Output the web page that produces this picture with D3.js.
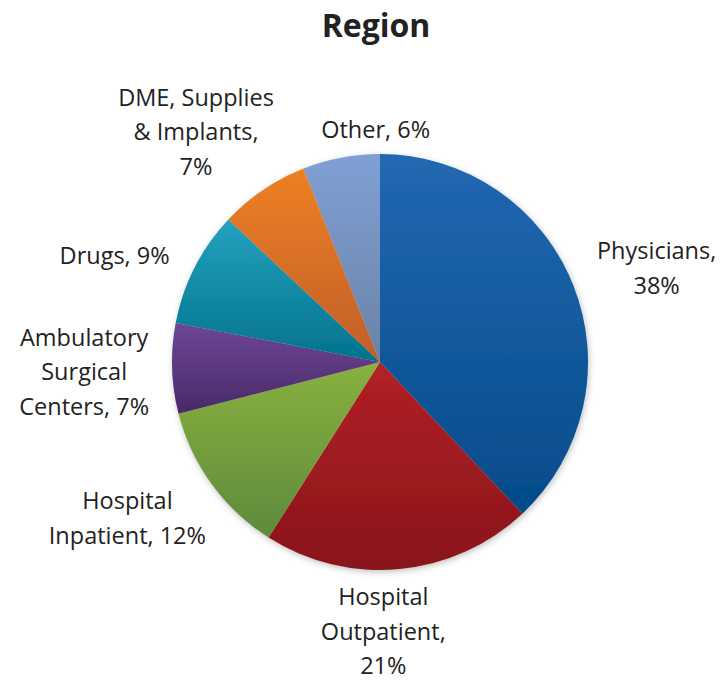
<!DOCTYPE html>
<html>
<head>
<meta charset="utf-8">
<script src="https://cdn.jsdelivr.net/npm/d3@7"></script>
<style>
  body { margin: 0; background: #fff; }
  text { font-family: "Open Sans", "Noto Sans", sans-serif; fill: #222; }
</style>
</head>
<body>
<svg id="chart"></svg>
<script>
// data
const categories = ["Physicians", "Hospital Outpatient", "Hospital Inpatient", "Ambulatory Surgical Centers", "Drugs", "DME, Supplies & Implants", "Other"]
const shares = [38, 21, 12, 7, 9, 7, 6]
const labelLines = [
  ["Physicians,", "38%"],
  ["Hospital", "Outpatient,", "21%"],
  ["Hospital", "Inpatient, 12%"],
  ["Ambulatory", "Surgical", "Centers, 7%"],
  ["Drugs, 9%"],
  ["DME, Supplies", "& Implants,", "7%"],
  ["Other, 6%"]
]
// label nudges from the outer label arc
const labelNudge = [[7, 13], [-24, -19], [-18, -14], [-6, 1], [-7, 25], [-21, 10], [50, 53]]

const colorsTop = ["#2268b2", "#b22126", "#88b13f", "#6c4796", "#24a2be", "#ee8023", "#80a0d4"]
const colorsBottom = ["#044b89", "#88151a", "#5e8a3c", "#4a2967", "#02728d", "#c05e2b", "#6a82a6"]

const width = 722, height = 683
const cx = 380, cy = 362, radius = 208
const labelRadius = 290
const lineHeight = 34.5

const svg = d3.select("#chart")
  .attr("width", width)
  .attr("height", height)

const defs = svg.append("defs")
const shadow = defs.append("filter").attr("id", "shadow")
  .attr("x", "-10%").attr("y", "-10%").attr("width", "120%").attr("height", "120%")
shadow.append("feDropShadow")
  .attr("dx", 1).attr("dy", 2).attr("stdDeviation", 3)
  .attr("flood-color", "#000").attr("flood-opacity", 0.25)

categories.forEach((c, i) => {
  const g = defs.append("linearGradient").attr("id", "grad" + i)
    .attr("x1", 0).attr("y1", 0).attr("x2", 0).attr("y2", 1)
  g.append("stop").attr("offset", "0%").attr("stop-color", colorsTop[i])
  g.append("stop").attr("offset", "100%").attr("stop-color", colorsBottom[i])
})

svg.append("text")
  .attr("x", 376)
  .attr("y", 37)
  .attr("text-anchor", "middle")
  .style("font-size", "32px")
  .style("font-weight", "bold")
  .text("Region")

const pie = d3.pie().sort(null).value(d => d)
const arcs = pie(shares)

const arc = d3.arc().innerRadius(0).outerRadius(radius)
const labelArc = d3.arc().innerRadius(labelRadius).outerRadius(labelRadius)

const pieG = svg.append("g")
  .attr("transform", `translate(${cx},${cy})`)
  .attr("filter", "url(#shadow)")

pieG.selectAll("path")
  .data(arcs)
  .enter().append("path")
  .attr("d", arc)
  .attr("fill", (d, i) => `url(#grad${i})`)

const labels = svg.append("g")
  .attr("transform", `translate(${cx},${cy})`)

labels.selectAll("text")
  .data(arcs)
  .enter().append("text")
  .attr("text-anchor", "middle")
  .style("font-size", "23.5px")
  .each(function (d, i) {
    const [x, y] = labelArc.centroid(d)
    const px = x + labelNudge[i][0]
    const py = y + labelNudge[i][1]
    const lines = labelLines[i]
    const top = py - (lines.length - 1) * lineHeight / 2
    d3.select(this).selectAll("tspan")
      .data(lines)
      .enter().append("tspan")
      .attr("x", px)
      .attr("y", (l, j) => top + j * lineHeight)
      .attr("dy", "0.35em")
      .text(l => l)
  })
</script>
</body>
</html>
